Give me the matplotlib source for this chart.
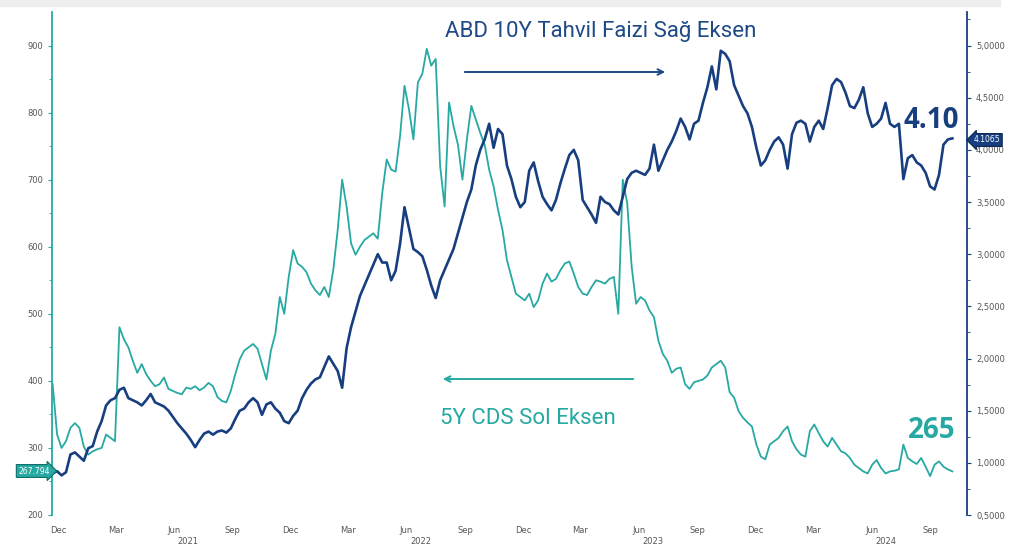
import matplotlib
import matplotlib.pyplot as plt
import pandas as pd
from matplotlib.patches import Rectangle
from matplotlib.ticker import FixedLocator, FuncFormatter

# çizimi sadece dosyaya al
matplotlib.use("Agg")

NAVY = "#173f80"
TEAL = "#27a9a3"
GREY = "#555555"

# haftalık gözlemler, 2020-12-06'dan itibaren
START = "2020-12-06"

# ABD 10Y tahvil faizi (sağ eksen)
us10y = [
    0.90, 0.92, 0.88, 0.91, 1.08, 1.10, 1.06, 1.02, 1.14, 1.16,
    1.30, 1.40, 1.55, 1.60, 1.62, 1.70, 1.72, 1.62, 1.60, 1.58,
    1.55, 1.60, 1.66, 1.58, 1.56, 1.54, 1.50, 1.44, 1.38, 1.33,
    1.28, 1.22, 1.15, 1.22, 1.28, 1.30, 1.27, 1.30, 1.31, 1.29,
    1.33, 1.42, 1.50, 1.52, 1.58, 1.62, 1.58, 1.46, 1.56, 1.58,
    1.52, 1.48, 1.40, 1.38, 1.45, 1.50, 1.62, 1.70, 1.76, 1.80,
    1.82, 1.92, 2.02, 1.95, 1.88, 1.72, 2.10, 2.30, 2.45, 2.60,
    2.70, 2.80, 2.90, 3.00, 2.92, 2.92, 2.75, 2.84, 3.10, 3.45,
    3.25, 3.05, 3.02, 2.98, 2.85, 2.70, 2.58, 2.75, 2.85, 2.95,
    3.05, 3.20, 3.35, 3.50, 3.62, 3.85, 4.00, 4.10, 4.25, 4.02,
    4.20, 4.15, 3.85, 3.72, 3.55, 3.45, 3.50, 3.80, 3.88, 3.70,
    3.55, 3.48, 3.42, 3.52, 3.68, 3.82, 3.95, 4.00, 3.90, 3.52,
    3.45, 3.38, 3.30, 3.55, 3.50, 3.48, 3.42, 3.38, 3.55, 3.72,
    3.78, 3.80, 3.78, 3.76, 3.82, 4.05, 3.80, 3.90, 4.00, 4.08,
    4.18, 4.30, 4.22, 4.10, 4.25, 4.28, 4.45, 4.60, 4.80, 4.58,
    4.95, 4.92, 4.85, 4.62, 4.52, 4.42, 4.35, 4.22, 4.02, 3.85,
    3.90, 4.00, 4.08, 4.12, 4.05, 3.82, 4.15, 4.26, 4.28, 4.25,
    4.08, 4.22, 4.28, 4.20, 4.40, 4.62, 4.68, 4.65, 4.55, 4.42,
    4.40, 4.48, 4.60, 4.35, 4.22, 4.25, 4.30, 4.45, 4.25, 4.22,
    4.25, 3.72, 3.92, 3.95, 3.88, 3.85, 3.78, 3.65, 3.62, 3.76,
    4.05, 4.10, 4.11,
]

# 5Y CDS (sol eksen)
cds = [
    395, 320, 300, 310, 330, 337, 330, 302, 290, 295,
    298, 300, 320, 315, 310, 480, 462, 450, 430, 412,
    425, 410, 400, 392, 395, 405, 388, 385, 382, 380,
    390, 388, 392, 386, 390, 397, 392, 376, 370, 368,
    385, 410, 432, 445, 450, 455, 448, 425, 402, 445,
    470, 525, 500, 555, 595, 575, 570, 562, 545, 535,
    528, 540, 525, 565, 625, 700, 660, 605, 588, 600,
    610, 615, 620, 612, 680, 730, 715, 712, 765, 840,
    805, 760, 845, 858, 895, 870, 880, 720, 660, 815,
    780, 752, 700, 760, 810, 790, 770, 752, 715, 690,
    655, 625, 580, 555, 530, 525, 520, 530, 510, 520,
    545, 560, 548, 552, 565, 575, 578, 560, 540, 530,
    528, 540, 550, 548, 545, 552, 555, 500, 700, 665,
    570, 515, 525, 520, 505, 495, 460, 440, 430, 412,
    418, 420, 395, 388, 398, 400, 402, 408, 420, 425,
    430, 420, 383, 375, 355, 345, 338, 332, 305, 287,
    283, 305, 310, 315, 325, 332, 310, 298, 290, 287,
    325, 335, 322, 310, 302, 315, 305, 295, 292, 285,
    275, 270, 265, 262, 275, 282, 270, 262, 265, 266,
    268, 305, 285, 280, 276, 285, 272, 258, 275, 280,
    272, 268, 265,
]

month_ticks = ["2020-12-15", "2021-03-15", "2021-06-15", "2021-09-15",
               "2021-12-15", "2022-03-15", "2022-06-15", "2022-09-15",
               "2022-12-15", "2023-03-15", "2023-06-15", "2023-09-15",
               "2023-12-15", "2024-03-15", "2024-06-15", "2024-09-15"]
month_labels = ["Dec", "Mar", "Jun", "Sep"] * 4
years = ["2021", "2022", "2023", "2024"]
year_pos = ["2021-07-07", "2022-07-07", "2023-07-07", "2024-07-07"]

dates = pd.date_range(START, periods=len(us10y), freq="7D")

W, H = 1009, 547
fig = plt.figure(figsize=(W / 100, H / 100), dpi=100)
fig.patches.append(Rectangle((0, 1 - 6 / H), 1000 / W, 6 / H, transform=fig.transFigure,
                             color="#eeeeee", zorder=0))

ax = fig.add_axes([52 / W, 1 - 515 / H, (967 - 52) / W, (515 - 12) / H])
ax2 = ax.twinx()

ax.plot(dates, cds, color=TEAL, lw=1.3)
ax2.plot(dates, us10y, color=NAVY, lw=1.9)

ax.set_xlim(pd.Timestamp("2020-12-05"), pd.Timestamp("2024-11-12"))
ax.set_ylim(200, 950)
ax2.set_ylim(0.5, 0.5 + 750 * 4.5 / 700)

# sol eksen
ax.set_yticks(range(200, 901, 100))
ax.yaxis.set_minor_locator(FixedLocator(range(250, 901, 100)))
ax.tick_params(axis="y", which="both", colors=TEAL, labelcolor=GREY, labelsize=6, direction="out")
ax.tick_params(axis="y", which="major", length=3)
ax.tick_params(axis="y", which="minor", length=2)

# sağ eksen
ax2.set_yticks([0.5 + 0.5 * k for k in range(10)])
ax2.yaxis.set_minor_locator(FixedLocator([0.75 + 0.5 * k for k in range(10)]))
ax2.yaxis.set_major_formatter(FuncFormatter(lambda v, p: f"{v:.4f}".replace(".", ",")))
ax2.tick_params(axis="y", which="both", colors=NAVY, labelcolor=GREY, labelsize=6, direction="out")
ax2.tick_params(axis="y", which="major", length=3)
ax2.tick_params(axis="y", which="minor", length=2)

for a in (ax, ax2):
    for s in ("top", "bottom"):
        a.spines[s].set_visible(False)
ax.spines["right"].set_visible(False)
ax2.spines["left"].set_visible(False)
ax.spines["left"].set_color(TEAL)
ax.spines["left"].set_linewidth(1.3)
ax2.spines["right"].set_color(NAVY)
ax2.spines["right"].set_linewidth(1.3)

# x ekseni
ax.set_xticks([pd.Timestamp(d) for d in month_ticks])
ax.set_xticklabels(month_labels)
ax.tick_params(axis="x", length=0, labelsize=6, labelcolor=GREY, pad=8)
for y, d in zip(years, year_pos):
    ax.text(pd.Timestamp(d), -0.052, y, transform=ax.get_xaxis_transform(),
            ha="center", va="center", fontsize=6, color=GREY)


def fx(x):
    return x / W


def fy(y):
    return 1 - y / H


# açıklamalar
fig.text(fx(601), fy(32), "ABD 10Y Tahvil Faizi Sağ Eksen", color="#1e4a86",
         fontsize=16, family="Roboto", ha="center", va="center")
fig.text(fx(528), fy(419), "5Y CDS Sol Eksen", color=TEAL,
         fontsize=16, family="Roboto", ha="center", va="center")
ax.annotate("", xy=(fx(668), fy(72)), xytext=(fx(462), fy(72)), xycoords="figure fraction",
            arrowprops=dict(arrowstyle="->", color="#1e4a86", lw=1.4))
ax.annotate("", xy=(fx(440), fy(379)), xytext=(fx(636), fy(379)), xycoords="figure fraction",
            arrowprops=dict(arrowstyle="->", color=TEAL, lw=1.4))

fig.text(fx(931), fy(121), "4.10", color=NAVY, fontsize=20, fontweight="bold",
         family="Open Sans", ha="center", va="center")
fig.text(fx(932), fy(430), "265", color=TEAL, fontsize=20, fontweight="bold",
         family="Open Sans", ha="center", va="center")

# son değer kutuları
fig.text(fx(34), fy(471), "267.794", color="white", fontsize=5.5, ha="center", va="center",
         bbox=dict(boxstyle="rarrow,pad=0.25", fc=TEAL, ec="#0d6b66", lw=0.8))
fig.text(fx(987), fy(140), "4.1065", color="white", fontsize=5.5, ha="center", va="center",
         bbox=dict(boxstyle="larrow,pad=0.25", fc=NAVY, ec="#0b2550", lw=0.8))

fig.savefig("out.png", dpi=100)
plt.close(fig)
